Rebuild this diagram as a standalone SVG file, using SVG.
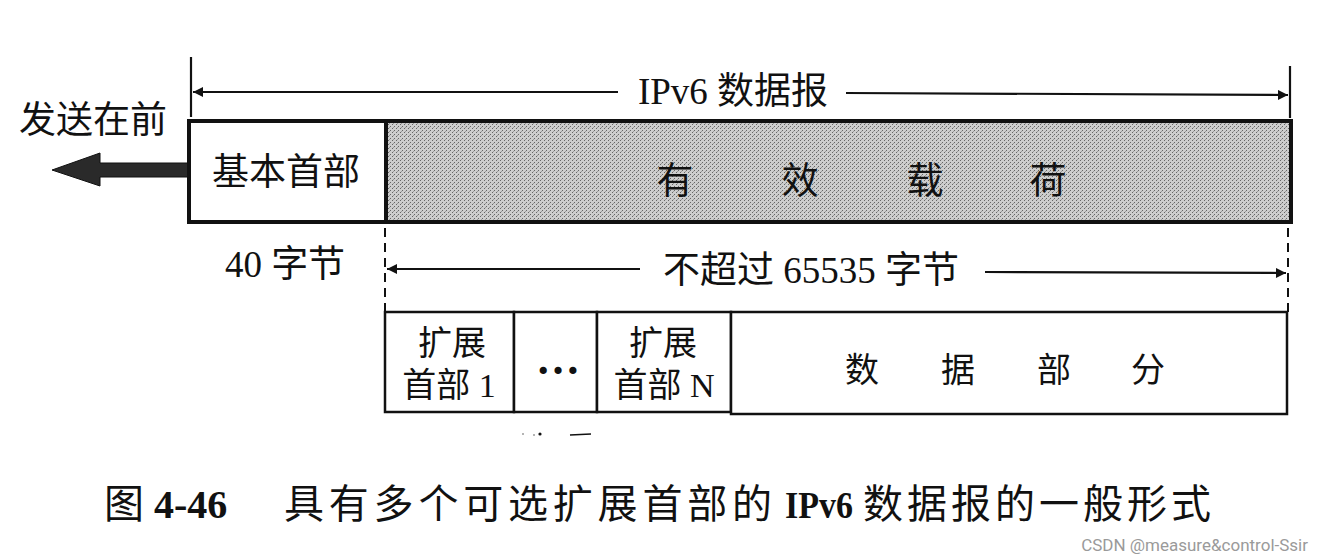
<svg xmlns="http://www.w3.org/2000/svg" width="1328" height="558" viewBox="0 0 1328 558">
<style>
.t{font-family:"Liberation Serif","Noto Sans CJK SC",serif;fill:#111;}
.lbl{font-size:37px;}
.sm{font-size:34px;}
.ln{stroke:#111;stroke-width:2.2;fill:none;}
.dash{stroke:#111;stroke-width:2;stroke-dasharray:9,6;fill:none;}
.box{stroke:#111;fill:#fff;}
</style>
<defs>
<pattern id="stip" width="4" height="4" patternUnits="userSpaceOnUse">
<rect width="4" height="4" fill="#cdcdcd"/>
<rect x="0" y="0" width="1" height="1" fill="#666"/>
<rect x="2" y="2" width="1" height="1" fill="#666"/>
<rect x="1" y="3" width="1" height="1" fill="#999"/>
</pattern>
<marker id="ah2" viewBox="0 0 10 10" refX="10" refY="5" markerWidth="16" markerHeight="10" markerUnits="userSpaceOnUse" orient="auto-start-reverse">
<path d="M0,0 L10,5 L0,10 Z" fill="#111"/>
</marker>
</defs>

<g id="connectors">
<line class="ln" x1="191" y1="57" x2="191" y2="117"/>
<line class="ln" x1="1290" y1="66" x2="1290" y2="118"/>
<line class="ln" x1="193" y1="92" x2="618" y2="92" marker-start="url(#ah2)"/>
<line class="ln" x1="846" y1="93" x2="1288" y2="95" marker-end="url(#ah2)"/>
<line class="dash" x1="385" y1="228" x2="385" y2="312"/>
<line class="dash" x1="1288" y1="228" x2="1288" y2="314"/>
<line class="ln" x1="387" y1="269" x2="640" y2="269" marker-start="url(#ah2)"/>
<line class="ln" x1="985" y1="272" x2="1286" y2="273" marker-end="url(#ah2)"/>
<path d="M189,163 L100,163 L100,153 L52,170 L100,186 L100,177 L189,177 Z" fill="#2a2a2a" stroke="#111" stroke-width="1"/>
</g>

<g id="send-first">
<text class="t lbl" x="93" y="133" text-anchor="middle">发送在前</text>
</g>

<g id="ipv6-label">
<text class="t lbl" x="733" y="104" text-anchor="middle">IPv6 数据报</text>
</g>

<g id="basic-header">
<rect class="box" x="189" y="121" width="197" height="101" stroke-width="4"/>
<text class="t lbl" x="286" y="185" text-anchor="middle">基本首部</text>
</g>

<g id="payload">
<rect x="386" y="121" width="905" height="101" fill="url(#stip)" stroke="#111" stroke-width="4"/>
<text class="t lbl" x="675" y="194" text-anchor="middle">有</text>
<text class="t lbl" x="800" y="194" text-anchor="middle">效</text>
<text class="t lbl" x="925" y="194" text-anchor="middle">载</text>
<text class="t lbl" x="1048" y="194" text-anchor="middle">荷</text>
</g>

<g id="size40">
<text class="t lbl" x="285" y="277" text-anchor="middle">40 字节</text>
</g>

<g id="payload-size">
<text class="t lbl" x="811" y="283" text-anchor="middle">不超过 65535 字节</text>
</g>

<g id="ext-header-1">
<rect class="box" x="385" y="312" width="129" height="100" stroke-width="2.5"/>
<text class="t sm" x="452" y="355" text-anchor="middle">扩展</text>
<text class="t sm" x="449" y="397" text-anchor="middle">首部 1</text>
</g>

<g id="ellipsis">
<rect class="box" x="514" y="312" width="83" height="100" stroke-width="2.5"/>
<text class="t" font-size="44" font-weight="bold" x="558" y="374" text-anchor="middle">…</text>
</g>

<g id="ext-header-n">
<rect class="box" x="597" y="312" width="134" height="100" stroke-width="2.5"/>
<text class="t sm" x="663" y="355" text-anchor="middle">扩展</text>
<text class="t sm" x="664" y="397" text-anchor="middle">首部 N</text>
</g>

<g id="data-part">
<rect class="box" x="731" y="312" width="556" height="102" stroke-width="2.5"/>
<text class="t sm" x="862" y="382" text-anchor="middle">数</text>
<text class="t sm" x="958" y="382" text-anchor="middle">据</text>
<text class="t sm" x="1054" y="382" text-anchor="middle">部</text>
<text class="t sm" x="1148" y="382" text-anchor="middle">分</text>
</g>

<g id="specks">
<circle cx="540" cy="434" r="1.6" fill="#111"/>
<circle cx="534" cy="435" r="0.8" fill="#555"/>
<circle cx="523" cy="434" r="0.8" fill="#555"/>
<line x1="570" y1="435" x2="591" y2="434" stroke="#111" stroke-width="1.6"/>
</g>

<g id="caption">
<text class="t" font-size="40" x="104" y="518">图 <tspan font-weight="bold">4-46</tspan></text>
<text class="t" font-size="40" x="284" y="518" textLength="488" lengthAdjust="spacing">具有多个可选扩展首部的</text>
<text class="t" font-size="37" font-weight="bold" x="785" y="518" textLength="68" lengthAdjust="spacingAndGlyphs">IPv6</text>
<text class="t" font-size="40" x="863" y="518" textLength="348" lengthAdjust="spacing">数据报的一般形式</text>
</g>

<g id="watermark">
<text x="1308" y="551" text-anchor="end" font-family="Roboto,'Liberation Sans',sans-serif" font-size="17" fill="#9a9a9a">CSDN @measure&amp;control-Ssir</text>
</g>
</svg>
